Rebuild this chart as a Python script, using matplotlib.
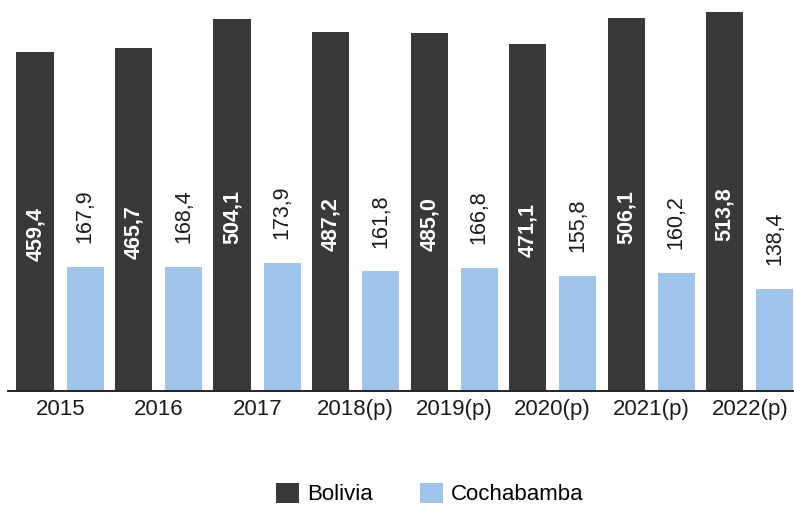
# Bolivia vs Cochabamba, bar chart

import matplotlib.pyplot as plt
import numpy as np

plt.rcParams['font.family'] = ['Liberation Sans', 'DejaVu Sans']

years = ['2015', '2016', '2017', '2018(p)', '2019(p)', '2020(p)', '2021(p)', '2022(p)']
bolivia = [459.4, 465.7, 504.1, 487.2, 485.0, 471.1, 506.1, 513.8]
cochabamba = [167.9, 168.4, 173.9, 161.8, 166.8, 155.8, 160.2, 138.4]

DARK = '#393939'
BLUE = '#9ec4ea'

def fmt(v):
    return ('%.1f' % v).replace('.', ',')

# ======================================================================

fig = plt.figure(figsize=(7.94, 5.09), dpi=100)
ax = fig.add_axes([0.0101, 0.2325, 0.99, 0.7676])

x = np.arange(len(years))
off = 0.254
w = 0.38

b1 = ax.bar(x - off, bolivia, w, color=DARK, label='Bolivia', zorder=2)
b2 = ax.bar(x + off, cochabamba, w, color=BLUE, label='Cochabamba', zorder=2)

for xi, v in zip(x, bolivia):
    ax.annotate(fmt(v), (xi - off, v / 2), xytext=(0, -9), textcoords='offset points',
                rotation=90, ha='center', va='center', color='white',
                fontsize=15.5, fontweight='bold')

for xi, v in zip(x, cochabamba):
    ax.annotate(fmt(v), (xi + off, v), xytext=(0, 17), textcoords='offset points',
                rotation=90, ha='center', va='bottom', color='#1a1a1a',
                fontsize=15.5)

ax.set_xlim(-0.53, 7.45)
ax.set_ylim(0, 530.4)
ax.set_xticks(x)
ax.set_xticklabels(years, fontsize=16, color='#1a1a1a')
ax.tick_params(axis='x', length=0, pad=6)
ax.set_yticks([])
for s in ['top', 'left', 'right']:
    ax.spines[s].set_visible(False)
ax.spines['bottom'].set_linewidth(1.4)
ax.spines['bottom'].set_color('#222222')
ax.spines['bottom'].set_zorder(3)

fig.legend(handles=[b1, b2], loc='center', bbox_to_anchor=(430 / 794, 0.0295),
           ncol=2, frameon=False, fontsize=16, handlelength=1.05, handleheight=1.05,
           handletextpad=0.36, columnspacing=2.1)

plt.savefig('out.png', dpi=100)
